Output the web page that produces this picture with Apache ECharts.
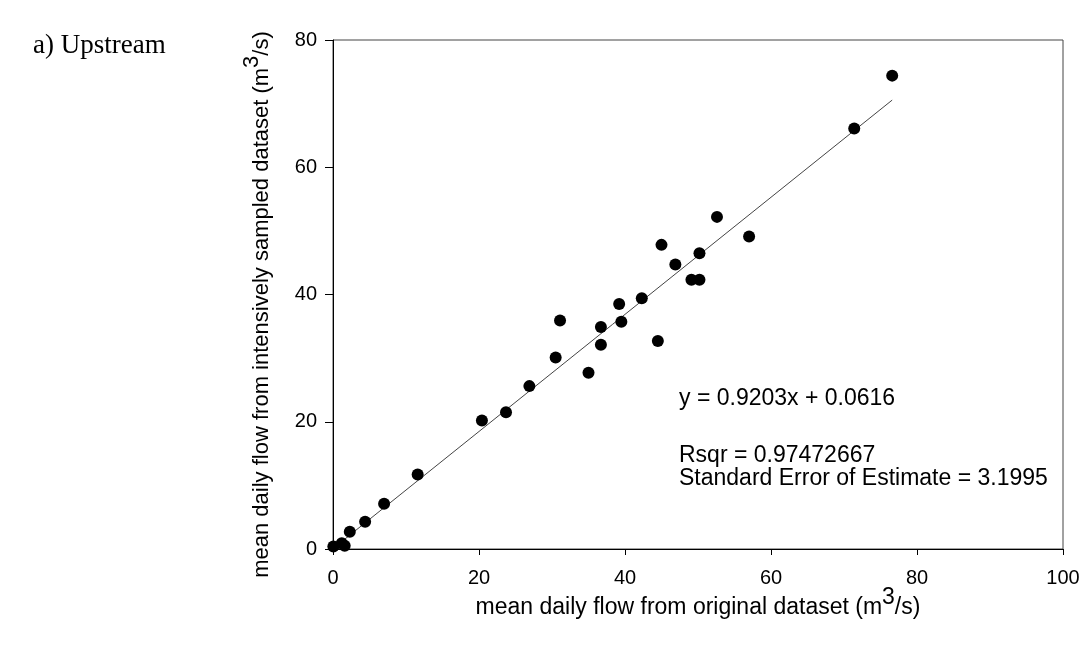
<!DOCTYPE html>
<html>
<head>
<meta charset="utf-8">
<script src="https://cdn.jsdelivr.net/npm/echarts@6/dist/echarts.min.js"></script>
<style>
html,body{margin:0;padding:0;background:#fff;}
#chart{width:1083px;height:645px;}
</style>
</head>
<body>
<div id="chart"></div>
<script>
// Data
var originalFlow = [0.05, 1.2, 1.6, 2.3, 4.4, 7.0, 11.6, 20.4, 23.7, 26.9, 30.5, 31.1, 35.0, 36.7, 36.7, 39.2, 39.5, 42.3, 44.5, 45.0, 46.9, 49.1, 50.2, 50.2, 52.6, 57.0, 71.4, 76.6];
var intensiveFlow = [0.4, 0.9, 0.5, 2.7, 4.3, 7.1, 11.7, 20.2, 21.5, 25.6, 30.1, 35.9, 27.7, 34.9, 32.1, 38.5, 35.7, 39.4, 32.7, 47.8, 44.7, 42.3, 42.3, 46.5, 52.2, 49.1, 66.1, 74.4];
var regressionCoef = [0.9203, 0.0616]; // slope, intercept
var regressionRange = [0, 76.6];
var xTicks = [0, 20, 40, 60, 80, 100];
var yTicks = [0, 20, 40, 60, 80];
var annotationLines = ['y = 0.9203x + 0.0616', '', 'Rsqr = 0.97472667', 'Standard Error of Estimate = 3.1995'];

var points = originalFlow.map(function (x, i) { return [x, intensiveFlow[i]]; });
var fitLine = regressionRange.map(function (x) { return [x, regressionCoef[0] * x + regressionCoef[1]]; });

var chart = echarts.init(document.getElementById('chart'), null, {renderer: 'canvas'});
var sans = 'Liberation Sans, Arial, sans-serif';

var option = {
  animation: false,
  backgroundColor: '#fff',
  grid: {left: 333, right: 20, top: 40, bottom: 96, show: true, borderColor: '#444', borderWidth: 1, containLabel: false},
  xAxis: {
    type: 'value', min: xTicks[0], max: xTicks[xTicks.length - 1], interval: 20,
    axisLine: {show: true, lineStyle: {color: '#000', width: 1}},
    axisTick: {show: true, inside: false, length: 6, lineStyle: {color: '#000'}},
    axisLabel: {fontFamily: sans, fontSize: 20, color: '#000', margin: 19},
    splitLine: {show: false},
    name: '{a|mean daily flow from original dataset (m}{s|3}{a|/s)}',
    nameLocation: 'middle', nameGap: 37, nameMoveOverlap: false,
    nameTextStyle: {
      rich: {
        a: {fontFamily: sans, fontSize: 23, color: '#000', verticalAlign: 'bottom'},
        s: {fontFamily: sans, fontSize: 23, color: '#000', verticalAlign: 'bottom', padding: [0, 0, 10, 0]}
      }
    }
  },
  yAxis: {
    type: 'value', min: yTicks[0], max: yTicks[yTicks.length - 1], interval: 20,
    axisLine: {show: true, lineStyle: {color: '#000', width: 1}},
    axisTick: {show: true, inside: false, length: 8, lineStyle: {color: '#000'}},
    axisLabel: {fontFamily: sans, fontSize: 20, color: '#000', margin: 16},
    splitLine: {show: false},
    name: '{a|mean daily flow from intensively sampled dataset (m}{s|3}{a|/s)}',
    nameLocation: 'middle', nameGap: 60, nameMoveOverlap: false,
    nameTextStyle: {
      padding: [0, 20, 0, 0],
      rich: {
        a: {fontFamily: sans, fontSize: 22, color: '#000', verticalAlign: 'bottom'},
        s: {fontFamily: sans, fontSize: 22, color: '#000', verticalAlign: 'bottom', padding: [0, 0, 10, 0]}
      }
    }
  },
  series: [
    {
      type: 'line', data: fitLine, showSymbol: false, symbol: 'none',
      lineStyle: {color: '#444', width: 1}, z: 1, silent: true
    },
    {
      type: 'scatter', data: points, symbol: 'circle', symbolSize: 12,
      itemStyle: {color: '#000', opacity: 1}, clip: false, z: 2
    }
  ],
  graphic: [
    {type: 'text', left: 33, top: 32, style: {text: 'a) Upstream', fontFamily: 'Liberation Serif, Times New Roman, serif', fontSize: 27, fill: '#000'}},
    {type: 'text', left: 679, top: 387, style: {text: annotationLines[0], fontFamily: sans, fontSize: 23, fill: '#000'}},
    {type: 'text', left: 679, top: 444, style: {text: annotationLines[2], fontFamily: sans, fontSize: 23, fill: '#000'}},
    {type: 'text', left: 679, top: 467, style: {text: annotationLines[3], fontFamily: sans, fontSize: 23, fill: '#000'}}
  ]
};
chart.setOption(option);
</script>
</body>
</html>
